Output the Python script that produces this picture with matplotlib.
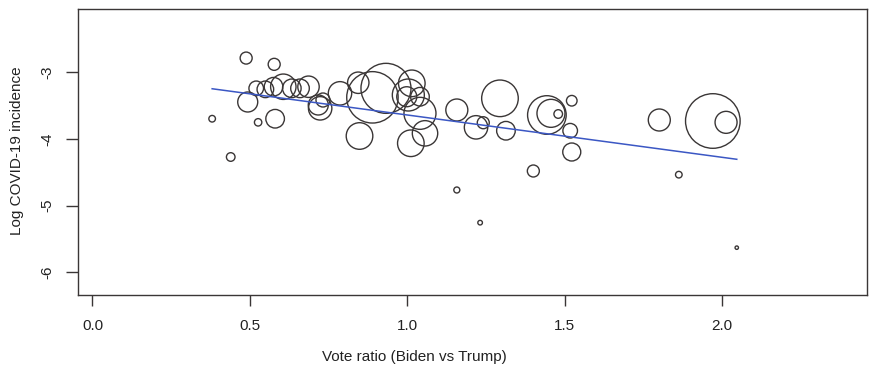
import matplotlib
matplotlib.use("Agg")
import matplotlib.pyplot as plt
import numpy as np

plt.rcParams['font.family'] = ['Liberation Sans', 'DejaVu Sans']

# Vote ratio (Biden vs Trump)
vote_ratio = [0.488, 0.577, 0.380, 0.526, 0.580, 0.493, 0.520, 0.549, 0.575, 0.606,
              0.633, 0.659, 0.686, 0.717, 0.723, 0.732, 0.786, 0.844, 0.932, 0.889,
              0.848, 1.014, 1.003, 0.998, 1.040, 1.040, 1.056, 1.011, 1.157, 1.294,
              1.218, 1.241, 1.313, 1.443, 1.456, 1.479, 1.522, 1.517, 1.522, 1.400,
              1.157, 1.231, 0.439, 1.800, 1.970, 2.012, 1.862, 2.046]
# Log COVID-19 incidence
log_incidence = [-2.786, -2.880, -3.696, -3.750, -3.696, -3.445, -3.240, -3.255, -3.216, -3.216,
                 -3.240, -3.240, -3.216, -3.490, -3.540, -3.415, -3.315, -3.156, -3.240, -3.375,
                 -3.955, -3.165, -3.340, -3.366, -3.366, -3.615, -3.915, -4.064, -3.565, -3.390,
                 -3.825, -3.756, -3.876, -3.640, -3.615, -3.625, -3.426, -3.876, -4.195, -4.480,
                 -4.765, -5.255, -4.270, -3.715, -3.730, -3.750, -4.535, -5.630]
# Relative bubble size (population weight)
bubble = [6.0, 6.0, 3.3, 3.7, 9.3, 10.0, 7.3, 8.3, 9.3, 12.7,
          9.3, 9.3, 10.7, 10.0, 11.7, 7.0, 11.7, 10.7, 25.0, 25.7,
          13.3, 13.3, 16.0, 10.0, 9.3, 16.0, 12.7, 13.3, 11.0, 18.3,
          11.7, 6.0, 9.3, 19.3, 14.0, 4.3, 5.3, 7.3, 9.0, 6.0,
          3.0, 2.3, 4.3, 11.0, 27.3, 11.0, 3.3, 1.7]

# Fitted regression line
fit_intercept = -3.005
fit_slope = -0.635

x_ticks = [0.0, 0.5, 1.0, 1.5, 2.0]
y_ticks = [-3, -4, -5, -6]

W, H, DPI = 874, 367, 100
fig = plt.figure(figsize=(W / DPI, H / DPI), dpi=DPI)
ax = fig.add_axes([78 / W, (H - 295) / H, (866.5 - 78) / W, (295 - 9) / H])

ink = '#3a3636'
b = np.array(bubble)
sizes = (2 * b * 72.0 / DPI) ** 2
ax.scatter(vote_ratio, log_incidence, s=sizes, facecolors='none',
           edgecolors=ink, linewidths=1.0, zorder=2)

xs = np.array([min(vote_ratio), max(vote_ratio)])
ax.plot(xs, fit_intercept + fit_slope * xs, color='#3b57c4', lw=1.1, zorder=3)

ax.set_xlim(-0.046, 2.458)
ax.set_ylim(-6.34, -2.05)
ax.set_xticks(x_ticks)
ax.set_xticklabels([f"{v:.1f}" for v in x_ticks])
ax.set_yticks(y_ticks)
ax.set_yticklabels([str(v) for v in y_ticks], rotation=90, va='center')

for s in ax.spines.values():
    s.set_color(ink)
    s.set_linewidth(1.0)
ax.tick_params(axis='x', length=8, width=1.0, color=ink, labelsize=11, pad=9, labelcolor='#222222')
ax.tick_params(axis='y', length=9, width=1.0, color=ink, labelsize=11, pad=8, labelcolor='#222222')

fig.text(17 / W, 1 - 151 / H, 'Log COVID-19 incidence', rotation=90, ha='center', va='center',
         fontsize=11, color='#222222')
fig.text(414 / W, 1 - 357 / H, 'Vote ratio (Biden vs Trump)', ha='center', va='center',
         fontsize=11, color='#222222')

fig.savefig('out.png', dpi=DPI, facecolor='white')
